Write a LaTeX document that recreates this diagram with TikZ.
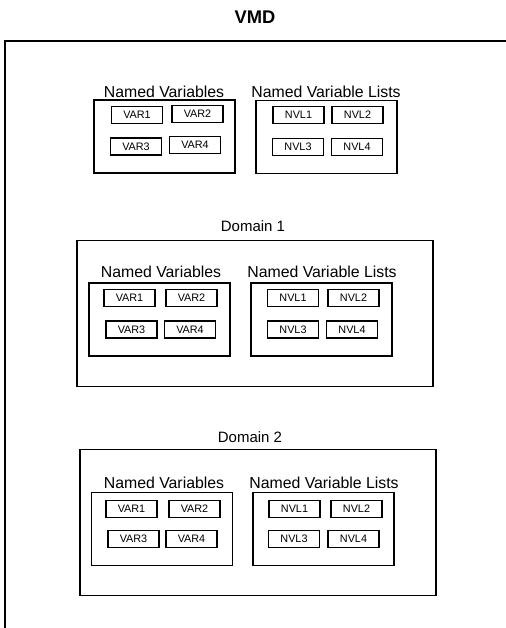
\documentclass[tikz,border=0pt]{standalone}
\usepackage{fontspec}
\setmainfont{Liberation Sans}
\usepackage{tikz}
\usetikzlibrary{positioning}

\begin{document}
\begin{tikzpicture}[
  x=0.6pt, y=-0.6pt,
  grpbox/.style={draw, line width=0.7pt, minimum width=84.6pt, minimum height=43.8pt, inner sep=0pt},
  itembox/.style={draw, line width=0.7pt, minimum width=30.6pt, minimum height=10.2pt, inner sep=0pt, font=\fontsize{6.5}{7}\selectfont},
  dombox/.style={draw, line width=0.7pt, minimum width=213.6pt, minimum height=87.6pt, inner sep=0pt},
  grplabel/.style={font=\fontsize{9.5}{11}\selectfont, inner sep=0pt},
  domlabel/.style={font=\fontsize{9}{11}\selectfont, inner sep=0pt}
]
  \useasboundingbox (0,0) rectangle (506,628);

  % VMD frame (cut off right and below)
  \node[font=\fontsize{11}{13}\selectfont\bfseries] (vmd) at (255, 17) {VMD};
  \draw[line width=0.8pt] (506, 41) -- (5, 41) -- (5, 628);

  % VMD level
  \node[grplabel] (nvt0) at (164, 92) {Named Variables};
  \node[grpbox] (nv0) at (164.5, 136.5) {};
  \node[itembox] (var01) at (137, 115) {VAR1};
  \node[itembox] (var02) at (197.5, 114) {VAR2};
  \node[itembox] (var03) at (136, 146.5) {VAR3};
  \node[itembox] (var04) at (195, 145) {VAR4};

  \node[grplabel] (nvlt0) at (326, 92) {Named Variable Lists};
  \node[grpbox] (nvl0) at (326.5, 137) {};
  \node[itembox] (nvl01) at (298.5, 115) {NVL1};
  \node[itembox] (nvl02) at (357.5, 115) {NVL2};
  \node[itembox] (nvl03) at (298, 147) {NVL3};
  \node[itembox] (nvl04) at (357, 147) {NVL4};

  % Domain 1
  \node[domlabel] (domt1) at (253, 226) {Domain 1};
  \node[dombox] (dom1) at (255, 313.5) {};
  \node[grplabel] (nvt1) at (161, 272) {Named Variables};
  \node[grpbox] (nv1) at (159.5, 319.5) {};
  \node[itembox] (var11) at (129.5, 298) {VAR1};
  \node[itembox] (var12) at (191.5, 298) {VAR2};
  \node[itembox] (var13) at (131.5, 329.5) {VAR3};
  \node[itembox] (var14) at (190, 329.5) {VAR4};

  \node[grplabel] (nvlt1) at (322, 272) {Named Variable Lists};
  \node[grpbox] (nvl1) at (321.5, 319.5) {};
  \node[itembox] (nvl11) at (293, 298) {NVL1};
  \node[itembox] (nvl12) at (353.5, 298) {NVL2};
  \node[itembox] (nvl13) at (293, 329.5) {NVL3};
  \node[itembox] (nvl14) at (352, 329.5) {NVL4};

  % Domain 2
  \node[domlabel] (domt2) at (250, 437) {Domain 2};
  \node[dombox] (dom2) at (258, 522.5) {};
  \node[grplabel] (nvt2) at (164, 483) {Named Variables};
  \node[grpbox] (nv2) at (162, 529) {};
  \node[itembox] (var21) at (131.5, 509) {VAR1};
  \node[itembox] (var22) at (194.5, 509) {VAR2};
  \node[itembox] (var23) at (133.5, 539) {VAR3};
  \node[itembox] (var24) at (191.5, 539) {VAR4};

  \node[grplabel] (nvlt2) at (324, 483) {Named Variable Lists};
  \node[grpbox] (nvl2) at (323.5, 529) {};
  \node[itembox] (nvl21) at (294.5, 509) {NVL1};
  \node[itembox] (nvl22) at (356.5, 509) {NVL2};
  \node[itembox] (nvl23) at (294, 539) {NVL3};
  \node[itembox] (nvl24) at (353.5, 539) {NVL4};
\end{tikzpicture}
\end{document}
